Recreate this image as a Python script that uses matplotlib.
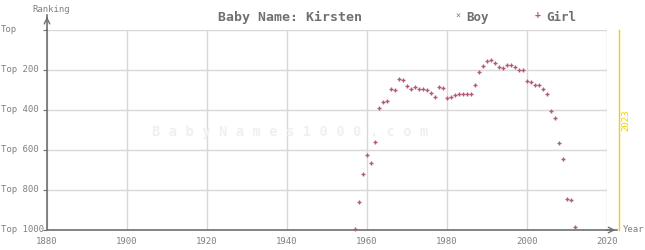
import matplotlib
matplotlib.use("Agg")
import matplotlib.pyplot as plt

girl_years = [1957, 1958, 1959, 1960, 1961, 1962, 1963, 1964, 1965, 1966, 1967, 1968, 1969,
              1970, 1971, 1972, 1973, 1974, 1975, 1976, 1977, 1978, 1979, 1980, 1981, 1982,
              1983, 1984, 1985, 1986, 1987, 1988, 1989, 1990, 1991, 1992, 1993, 1994, 1995,
              1996, 1997, 1998, 1999, 2000, 2001, 2002, 2003, 2004, 2005, 2006, 2007, 2008,
              2009, 2010, 2011, 2012]
girl_ranks = [995, 860, 720, 625, 665, 560, 390, 360, 355, 295, 300, 245, 250,
              280, 295, 285, 295, 295, 300, 315, 335, 285, 290, 340, 335, 325,
              320, 320, 320, 320, 275, 210, 180, 155, 150, 165, 185, 190, 175,
              175, 185, 200, 200, 255, 260, 275, 275, 295, 320, 405, 440, 565,
              645, 845, 850, 985]
boy_years = []
boy_ranks = []

x_ticks = [1880, 1900, 1920, 1940, 1960, 1980, 2000, 2020]
y_ticks = [0, 200, 400, 600, 800, 1000]
y_labels = ["Top", "Top 200", "Top 400", "Top 600", "Top 800", "Top 1000"]
current_year = 2023

plt.rcParams['font.family'] = ['DejaVu Sans Mono']
txt = '#808080'
axc = '#707070'

fig = plt.figure(figsize=(6.45, 2.5), dpi=100)
ax = fig.add_axes([47/645, 20/250, 560/645, 200/250])
ax.set_xlim(1880, 2020)
ax.set_ylim(1000, 0)

ax.set_xticks(x_ticks)
ax.set_xticklabels([str(v) for v in x_ticks], fontsize=6.5, color=txt)
ax.set_yticks(y_ticks)
ax.set_yticklabels([])
ax.tick_params(axis='x', length=0, pad=5)
ax.tick_params(axis='y', length=3, color=axc)
for v, lab in zip(y_ticks, y_labels):
    ax.text(-46/560, v, lab, transform=ax.get_yaxis_transform(), fontsize=6.5,
            color=txt, ha='left', va='center')

ax.grid(True, color='#d8d8d8', linewidth=1)
ax.set_axisbelow(True)
for s in ['top', 'right']:
    ax.spines[s].set_visible(False)
for s in ['left', 'bottom']:
    ax.spines[s].set_color(axc)
    ax.spines[s].set_linewidth(1.2)

# axis extensions with arrows
ax.plot([1880, 1880], [0, -75], color=axc, lw=1.2, clip_on=False)
ax.plot([2020, 2022.5], [1000, 1000], color=axc, lw=1.2, clip_on=False)
ax.annotate('', xy=(1880, -80), xytext=(1880, -45), annotation_clip=False,
            arrowprops=dict(arrowstyle='->', color=axc, lw=1))
ax.annotate('', xy=(2022.8, 1000), xytext=(2019.5, 1000), annotation_clip=False,
            arrowprops=dict(arrowstyle='->', color=axc, lw=1))
fig.text(32/645, 1 - 9/250, 'Ranking', fontsize=6.5, color=txt, va='center', ha='left')
fig.text(623/645, 1 - 230/250, 'Year', fontsize=6.5, color=txt, va='center', ha='left')

# current year line
ax.plot([current_year, current_year], [0, 1000], color='#f0d000', lw=1, clip_on=False)
fig.text(626/645, 1 - 120/250, str(current_year), fontsize=6.5, color='#f0d000',
         rotation=90, va='center', ha='center')

# watermark
fig.text(290/645, 1 - 132/250, 'B a b y N a m e s 1 0 0 0 . c o m', fontsize=10,
         color='#f0f0f0', ha='center', va='center', fontweight='bold', zorder=0)

ax.scatter(boy_years, boy_ranks, marker='x', s=6, color='#7080a8', linewidths=0.8)
ax.scatter(girl_years, girl_ranks, marker='+', s=9, color='#b5577a', linewidths=1.0,
           clip_on=False, zorder=3)

fig.text(290/645, 1 - 17/250, 'Baby Name: Kirsten', fontsize=9.5, color='#707070',
         fontweight='bold', ha='center', va='center')
fig.text(458/645, 1 - 16/250, '×', fontsize=6, color='#7080a8', ha='center', va='center')
fig.text(466/645, 1 - 17/250, 'Boy', fontsize=9, color='#707070', fontweight='bold',
         ha='left', va='center')
fig.text(538/645, 1 - 15/250, '+', fontsize=7, color='#b5577a', ha='center', va='center',
         fontweight='bold')
fig.text(546/645, 1 - 17/250, 'Girl', fontsize=9, color='#707070', fontweight='bold',
         ha='left', va='center')

fig.savefig('out.png', dpi=100)
